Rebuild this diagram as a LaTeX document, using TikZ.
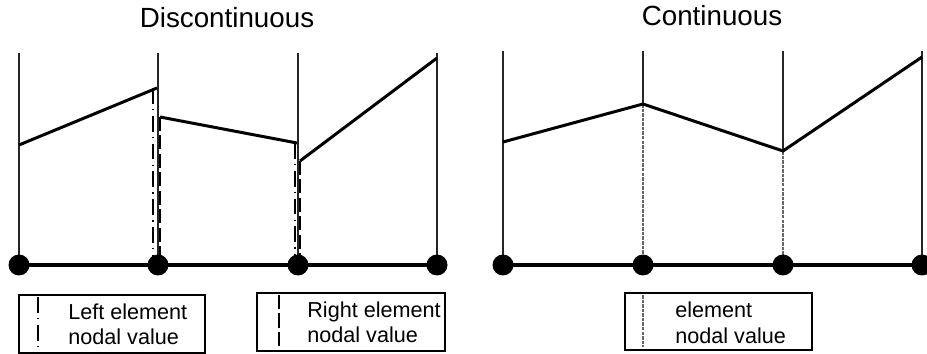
\documentclass[tikz,border=0pt]{standalone}
\usepackage{fontspec}
\setmainfont{Liberation Sans}
\usetikzlibrary{calc}

\begin{document}
\begin{tikzpicture}[
  x=0.02cm, y=-0.02cm,
  gridline/.style={black!85, line width=0.6pt},
  curve/.style={black, line width=1.7pt},
  axis/.style={black, line width=2.3pt},
  leftval/.style={black, line width=1.3pt, dash pattern=on 9pt off 3pt on 0.8pt off 3pt},
  rightval/.style={black, line width=1.4pt, dash pattern=on 8pt off 2.5pt},
  contval/.style={black!60, line width=1.1pt, dash pattern=on 2pt off 0.6pt},
  nodedot/.style={circle, fill=black, inner sep=0pt, minimum size=0.42cm},
  legendbox/.style={draw, line width=0.6pt},
  legendtext/.style={font=\fontsize{12.3}{14}\selectfont, anchor=base west, inner sep=0pt},
  paneltitle/.style={font=\fontsize{15.8}{18}\selectfont, anchor=base, inner sep=0pt}
]

\useasboundingbox (0,0) rectangle (927,354);

% ── Discontinuous panel ──
\node[paneltitle] (disctitle) at (227,28) {Discontinuous};

\foreach \x [count=\i] in {19,158,298,437} {
  \coordinate (dp\i) at (\x,265);
  \draw[gridline] (\x,53) -- (dp\i);
}

% element values (left end / right end of each element)
\coordinate (a1) at (19,145);
\coordinate (a2) at (157,88);
\coordinate (b1) at (160,117);
\coordinate (b2) at (297,143);
\coordinate (c1) at (300,161);
\coordinate (c2) at (437,58);
\draw[curve] (a1) -- (a2);
\draw[curve] (b1) -- (b2);
\draw[curve] (c1) -- (c2);

% left element nodal values
\draw[leftval] ($(a2)+(-4,0)$) -- ($(dp2)+(-5,0)$);
\draw[leftval] ($(b2)+(-2,0)$) -- ($(dp3)+(-3,0)$);
% right element nodal values
\draw[rightval] (b1) -- (b1 |- dp2);
\draw[rightval] (c1) -- (c1 |- dp3);

\draw[axis] (dp1) -- (dp4);
\foreach \i in {1,...,4}
  \node[nodedot] (dn\i) at (dp\i) {};

% ── Continuous panel ──
\node[paneltitle] (conttitle) at (712,26) {Continuous};

\foreach \x/\y [count=\i] in {503/142,643/104,783/151,922/57} {
  \coordinate (cp\i) at (\x,265);
  \coordinate (cv\i) at (\x,\y);
}
\draw[gridline] (503,51) -- (cp1);
\draw[gridline] (922,51) -- (cp4);
\foreach \i in {2,3} {
  \draw[gridline] (cv\i |- 0,51) -- (cv\i);
  \draw[contval] (cv\i) -- (cp\i);
}
\draw[curve] (cv1) -- (cv2) -- (cv3) -- (cv4);

\draw[axis] (cp1) -- (cp4);
\foreach \i in {1,...,4}
  \node[nodedot] (cn\i) at (cp\i) {};

% ── Legends ──
\draw[legendbox] (19,295) rectangle (205,353);
\draw[leftval] (38,297) -- (38,352);
\node[legendtext] (lefta) at (68,320) {Left element};
\node[legendtext] (leftb) at (68,345) {nodal value};

\draw[legendbox] (257,293) rectangle (445,351);
\draw[rightval] (279,295) -- (279,350);
\node[legendtext] (righta) at (307,318) {Right element};
\node[legendtext] (rightb) at (307,343) {nodal value};

\draw[legendbox] (625,293) rectangle (812,350);
\draw[contval] (643,295) -- (643,347);
\node[legendtext] (conta) at (675,318) {element};
\node[legendtext] (contb) at (675,344) {nodal value};

\end{tikzpicture}
\end{document}
